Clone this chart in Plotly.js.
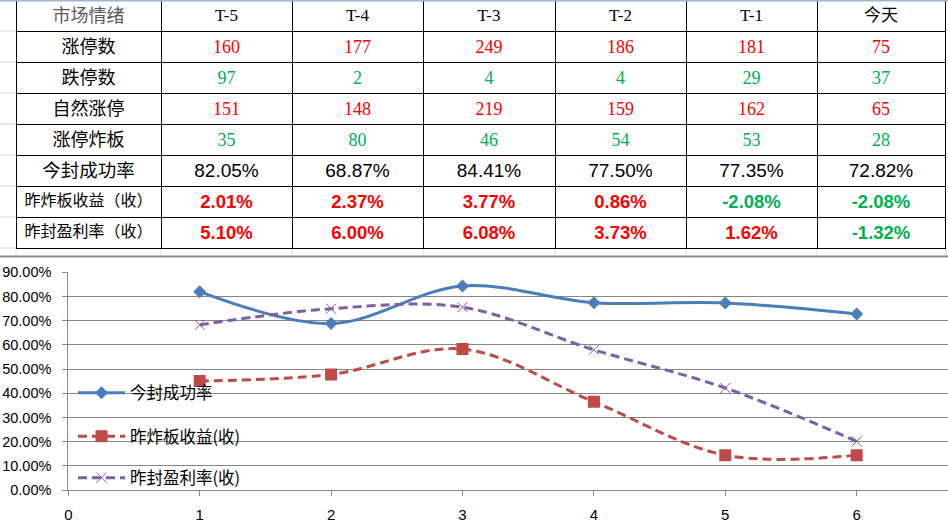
<!DOCTYPE html>
<html><head><meta charset="utf-8">
<script src="https://cdn.plot.ly/plotly-3.0.1.min.js"></script>
<style>html,body{margin:0;padding:0;background:#fff}#chart{width:948px;height:526px}</style>
</head><body><div id="chart"></div>
<script>
// ---- table data ----
const headerCorner = '市场情绪';
const days = ['T-5','T-4','T-3','T-2','T-1','今天'];
const rowLabels = ['涨停数','跌停数','自然涨停','涨停炸板','今封成功率','昨炸板收益（收）','昨封盈利率（收）'];
const limitUp = [160,177,249,186,181,75];
const limitDown = [97,2,4,4,29,37];
const naturalUp = [151,148,219,159,162,65];
const brokenUp = [35,80,46,54,53,28];
const sealRate = [82.05,68.87,84.41,77.50,77.35,72.82];
const brokenReturn = [2.01,2.37,3.77,0.86,-2.08,-2.08];
const sealProfit = [5.10,6.00,6.08,3.73,1.62,-1.32];

// ---- chart data ----
const chartX = [1,2,3,4,5,6];
const seriesNames = ['今封成功率','昨炸板收益(收)','昨封盈利率(收)'];
const chartSeal = [0.8205,0.6887,0.8441,0.7750,0.7735,0.7282];
const chartBroken = [0.451,0.478,0.583,0.365,0.144,0.144];
const chartProfit = [0.683,0.750,0.756,0.580,0.422,0.201];
const xTicks = [0,1,2,3,4,5,6];

const W = 948, H = 526;
const fx = p => p / W;
const fy = p => 1 - p / H;

const RED = '#FF0000', GREEN = '#00B050', BLACK = '#000000';
const CJK = 'Noto Sans CJK SC', SERIF = 'Liberation Serif', SANS = 'Liberation Sans';

// build table columns
const pct = v => v.toFixed(2) + '%';
const cellVals = [rowLabels];
const fam = [rowLabels.map(() => CJK)];
const siz = [[18,18,18,18,18.5,16,16]];
const col = [rowLabels.map(() => BLACK)];
const wgt = [rowLabels.map(() => 'normal')];
for (let i = 0; i < days.length; i++) {
  cellVals.push([
    String(limitUp[i]), String(limitDown[i]), String(naturalUp[i]), String(brokenUp[i]),
    pct(sealRate[i]), pct(brokenReturn[i]), pct(sealProfit[i])
  ]);
  fam.push([SERIF, SERIF, SERIF, SERIF, SANS, SANS, SANS]);
  siz.push([18,18,18,18,19,18.5,18.5]);
  wgt.push(['normal','normal','normal','normal','normal','bold','bold']);
  col.push([RED, GREEN, RED, GREEN, BLACK,
    brokenReturn[i] >= 0 ? RED : GREEN, sealProfit[i] >= 0 ? RED : GREEN]);
}

const table = {
  type: 'table',
  domain: {x: [fx(16), fx(945)], y: [fy(250), 1]},
  columnwidth: [145,131,131,132,131,131,128],
  header: {
    values: [headerCorner].concat(days),
    align: 'center', height: 31,
    line: {color: '#000', width: 1}, fill: {color: '#fff'},
    font: {family: [CJK, SERIF, SERIF, SERIF, SERIF, SERIF, CJK],
           size: [18, 17, 17, 17, 17, 17, 17],
           color: ['#595959', BLACK, BLACK, BLACK, BLACK, BLACK, BLACK]}
  },
  cells: {
    values: cellVals, align: 'center', height: 31,
    line: {color: '#000', width: 1}, fill: {color: '#fff'},
    font: {family: fam, size: siz, color: col, weight: wgt}
  }
};

const lineS = {
  x: chartX, y: chartSeal, name: seriesNames[0], type: 'scatter', mode: 'lines+markers',
  line: {color: '#4A7EBB', width: 3, shape: 'spline', smoothing: 1},
  marker: {symbol: 'diamond', size: 10, color: '#4A7EBB'}, legend: 'legend'
};
const lineB = {
  x: chartX, y: chartBroken, name: seriesNames[1], type: 'scatter', mode: 'lines+markers',
  line: {color: '#BE4B48', width: 3, shape: 'spline', smoothing: 1, dash: '9px,5px'},
  marker: {symbol: 'square', size: 12, color: '#BE4B48'}, legend: 'legend2'
};
const lineP = {
  x: chartX, y: chartProfit, name: seriesNames[2], type: 'scatter', mode: 'lines+markers',
  line: {color: '#7D60A0', width: 3, shape: 'spline', smoothing: 1, dash: '9px,5px'},
  marker: {symbol: 'x-thin', size: 10, color: '#7D60A0', line: {color: '#7D60A0', width: 1}}, legend: 'legend3'
};

const legBase = {bgcolor: 'rgba(255,255,255,0)', borderwidth: 0, xanchor: 'left', yanchor: 'middle',
  font: {family: CJK, size: 16.5, color: '#000'}, itemwidth: 47};

const shapes = [];
// spreadsheet background lines
shapes.push({type: 'line', xref: 'paper', yref: 'paper', x0: 0, x1: 1, y0: fy(0.5), y1: fy(0.5), line: {color: '#9EB6CE', width: 2}, layer: 'above'});
for (let k = 1; k <= 8; k++) {
  shapes.push({type: 'line', xref: 'paper', yref: 'paper', x0: 0, x1: fx(15.5), y0: fy(31*k), y1: fy(31*k), line: {color: '#D0D7E5', width: 1}});
}
[16,161,292,423,555,686,817,946].forEach(p => {
  shapes.push({type: 'line', xref: 'paper', yref: 'paper', x0: fx(p), x1: fx(p), y0: fy(249), y1: fy(255.5), line: {color: '#D0D7E5', width: 1}});
});
shapes.push({type: 'line', xref: 'paper', yref: 'paper', x0: 0, x1: 1, y0: fy(256.5), y1: fy(256.5), line: {color: '#8C8C8C', width: 2}});
// white backgrounds behind legend entries (hide gridlines, stay under the series)
[[383, 403], [426, 447], [468, 488]].forEach(b => {
  shapes.push({type: 'rect', xref: 'paper', yref: 'paper', x0: fx(69), x1: fx(250), y0: fy(b[1]), y1: fy(b[0]),
    fillcolor: '#fff', line: {width: 0}, layer: 'between'});
});

const layout = {
  width: W, height: H, margin: {l: 0, r: 0, t: 0, b: 0},
  paper_bgcolor: '#fff', plot_bgcolor: '#fff',
  showlegend: true,
  xaxis: {domain: [fx(68.3), 1], range: [0, 6.695], tickvals: xTicks, ticktext: xTicks.map(String),
    showgrid: false, zeroline: false, showline: true, linecolor: '#868686', linewidth: 1,
    ticks: 'outside', ticklen: 5, tickcolor: '#868686', ticklabelstandoff: 6,
    tickfont: {family: SANS, size: 15, color: '#000'}},
  yaxis: {domain: [fy(490), fy(272.3)], range: [0, 0.9005], dtick: 0.1, tick0: 0, tickformat: '.2%',
    showgrid: true, gridcolor: '#868686', gridwidth: 1, zeroline: false,
    showline: true, linecolor: '#868686', linewidth: 1,
    ticks: 'outside', ticklen: 5, tickcolor: '#868686', ticklabelstandoff: 8,
    tickfont: {family: SANS, size: 14.5, color: '#000'}},
  legend: Object.assign({}, legBase, {x: fx(73), y: fy(393)}),
  legend2: Object.assign({}, legBase, {x: fx(73), y: fy(436.5)}),
  legend3: Object.assign({}, legBase, {x: fx(73), y: fy(478)}),
  shapes: shapes
};

Plotly.newPlot('chart', [table, lineS, lineB, lineP], layout, {displayModeBar: false, staticPlot: true});
</script>
</body></html>
